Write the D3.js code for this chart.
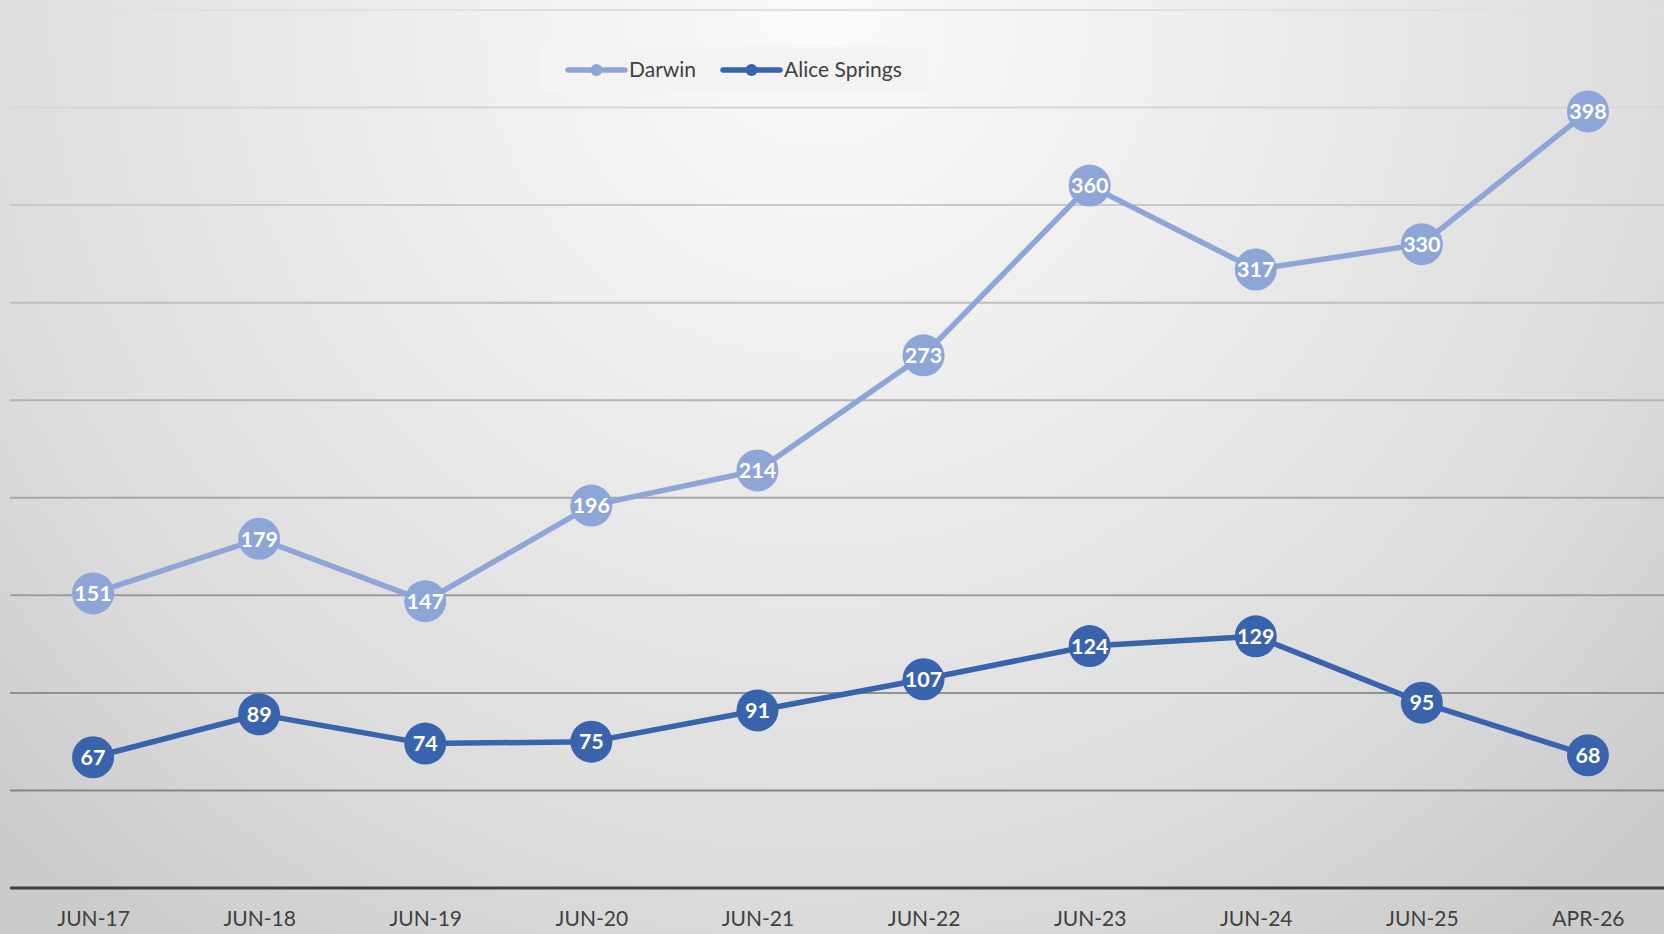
<!DOCTYPE html>
<html>
<head>
<meta charset="utf-8">
<script src="https://cdn.jsdelivr.net/npm/d3@7"></script>
<style>
  html, body { margin: 0; padding: 0; overflow: hidden; }
  svg { display: block; }
</style>
</head>
<body>
<svg id="chart" width="1664" height="934"></svg>
<script>
// Chart data
const categories = ['JUN-17', 'JUN-18', 'JUN-19', 'JUN-20', 'JUN-21', 'JUN-22', 'JUN-23', 'JUN-24', 'JUN-25', 'APR-26'];
const darwin = [151, 179, 147, 196, 214, 273, 360, 317, 330, 398];
const aliceSprings = [67, 89, 74, 75, 91, 107, 124, 129, 95, 68];
const seriesNames = ['Darwin', 'Alice Springs'];
const yTicks = [50, 100, 150, 200, 250, 300, 350, 400, 450];

const width = 1664, height = 934;
const colors = { 'Darwin': '#8ea5d7', 'Alice Springs': '#3a63ae' };
const font = 'Lato, "Open Sans", sans-serif';

const svg = d3.select('#chart');

// background gradient
const defs = svg.append('defs');
const bg = defs.append('radialGradient')
    .attr('id', 'bg')
    .attr('gradientUnits', 'userSpaceOnUse')
    .attr('cx', 820).attr('cy', 20).attr('r', 1150);
bg.append('stop').attr('offset', 0).attr('stop-color', '#fafafa');
bg.append('stop').attr('offset', 0.35).attr('stop-color', '#ededed');
bg.append('stop').attr('offset', 0.75).attr('stop-color', '#dcdcdc');
bg.append('stop').attr('offset', 1).attr('stop-color', '#cbcbcb');

svg.append('rect').attr('width', width).attr('height', height).attr('fill', 'url(#bg)');

const x = d3.scalePoint().domain(categories).range([10, 1671]).padding(0.5);
const y = d3.scaleLinear().domain([0, 450]).range([888, 10]);

// gridlines, getting darker toward the bottom
const gridColor = d3.scaleLinear().domain([10, 790]).range(['#e0e0e0', '#868686']);
svg.append('g').selectAll('line')
    .data(yTicks)
    .enter().append('line')
    .attr('x1', 10).attr('x2', width)
    .attr('y1', d => y(d)).attr('y2', d => y(d))
    .attr('stroke', d => gridColor(y(d)))
    .attr('stroke-width', 2);

// x axis
const xAxis = svg.append('g')
    .attr('transform', `translate(0,${y(0)})`)
    .call(d3.axisBottom(x).tickSize(0).tickPadding(23));
xAxis.select('.domain').remove();
xAxis.selectAll('text')
    .attr('font-family', font)
    .attr('font-size', 21)
    .attr('fill', '#404040');
svg.append('line')
    .attr('x1', 10).attr('x2', width)
    .attr('y1', y(0)).attr('y2', y(0))
    .attr('stroke', '#404040')
    .attr('stroke-width', 3);

// series
const series = [
    { name: 'Darwin', values: darwin },
    { name: 'Alice Springs', values: aliceSprings }
];

const line = d3.line()
    .x((d, i) => x(categories[i]))
    .y(d => y(d));

series.forEach(s => {
    const g = svg.append('g');
    g.append('path')
        .datum(s.values)
        .attr('d', line)
        .attr('fill', 'none')
        .attr('stroke', colors[s.name])
        .attr('stroke-width', 5.5)
        .attr('stroke-linejoin', 'round');

    const pt = g.selectAll('.pt')
        .data(s.values)
        .enter().append('g')
        .attr('transform', (d, i) => `translate(${x(categories[i])},${y(d)})`);
    pt.append('circle')
        .attr('r', 21)
        .attr('fill', colors[s.name]);
    pt.append('text')
        .attr('text-anchor', 'middle')
        .attr('dy', '0.36em')
        .attr('font-family', font)
        .attr('font-weight', 'bold')
        .attr('font-size', 21.5)
        .attr('fill', '#ffffff')
        .text(d => d);
});

// legend
const legend = svg.append('g');
legend.append('rect')
    .attr('x', 540).attr('y', 47)
    .attr('width', 387).attr('height', 45)
    .attr('fill', '#f3f3f3');

const legendItems = [
    { name: seriesNames[0], x: 568 },
    { name: seriesNames[1], x: 723 }
];
legendItems.forEach(item => {
    const g = legend.append('g').attr('transform', `translate(${item.x},70)`);
    g.append('line')
        .attr('x1', 0).attr('x2', 57)
        .attr('stroke', colors[item.name])
        .attr('stroke-width', 5.5)
        .attr('stroke-linecap', 'round');
    g.append('circle')
        .attr('cx', 28.5).attr('r', 6)
        .attr('fill', colors[item.name]);
    g.append('text')
        .attr('x', 61)
        .attr('dy', '0.35em')
        .attr('font-family', font)
        .attr('font-size', 21)
        .attr('fill', '#404040')
        .text(item.name);
});
</script>
</body>
</html>
